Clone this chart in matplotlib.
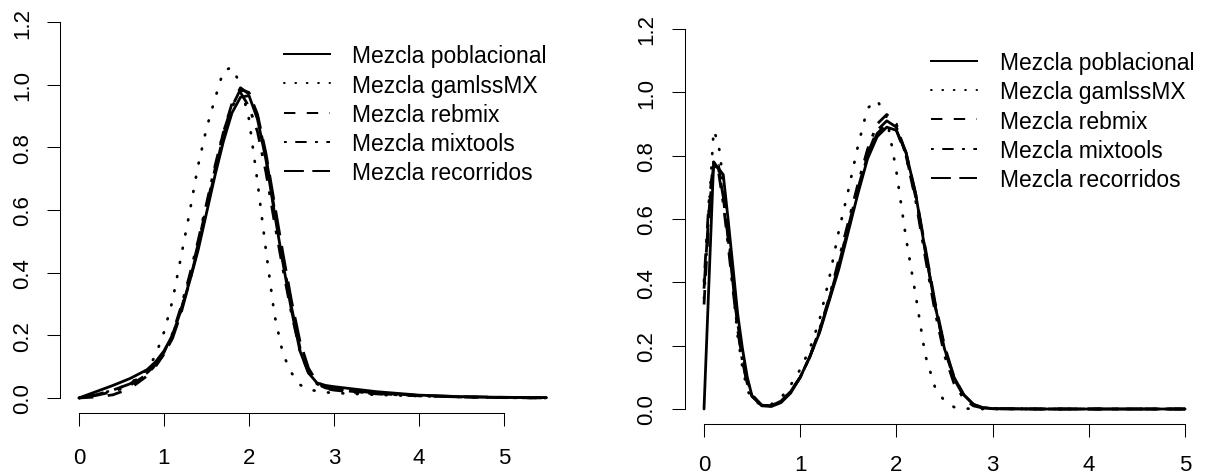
import matplotlib
matplotlib.use('Agg')
import matplotlib.pyplot as plt
from matplotlib.lines import Line2D
from matplotlib.ticker import FormatStrFormatter

plt.rcParams['font.family'] = ['Liberation Sans', 'DejaVu Sans']
plt.rcParams['lines.scale_dashes'] = False

# --- Data: estimated mixture densities ---
labels = ['Mezcla poblacional', 'Mezcla gamlssMX', 'Mezcla rebmix',
          'Mezcla mixtools', 'Mezcla recorridos']

# unimodal mixture (left)
x_left = [0, 0.2, 0.4, 0.6, 0.8, 0.9, 1.0, 1.1, 1.2, 1.3, 1.4, 1.5, 1.6, 1.7, 1.8, 1.9,
          2.0, 2.1, 2.2, 2.3, 2.4, 2.5, 2.6, 2.7, 2.8, 2.9, 3.0, 3.25, 3.5, 4.0, 4.5, 5.0, 5.5]
pobl_left = [0, 0.02, 0.04, 0.062, 0.09, 0.115, 0.15, 0.2, 0.28, 0.37, 0.47, 0.59, 0.71, 0.82,
             0.91, 0.96, 0.965, 0.89, 0.76, 0.59, 0.43, 0.28, 0.15, 0.08, 0.048, 0.04, 0.036,
             0.028, 0.02, 0.009, 0.004, 0.002, 0.001]
gamlss_left = [0.0, 0.01, 0.025, 0.045, 0.09, 0.135, 0.21, 0.31, 0.45, 0.59, 0.74, 0.86, 0.955,
               1.045, 1.055, 1.0, 0.89, 0.69, 0.47, 0.265, 0.14, 0.08, 0.042, 0.027, 0.022, 0.018,
               0.016, 0.013, 0.01, 0.006, 0.003, 0.001, 0.0]
rebmix_left = [0, 0.003, 0.01, 0.03, 0.07, 0.1, 0.14, 0.2, 0.28, 0.38, 0.49, 0.61, 0.73, 0.85,
               0.94, 0.99, 0.97, 0.9, 0.77, 0.6, 0.44, 0.29, 0.16, 0.085, 0.045, 0.032, 0.027,
               0.02, 0.014, 0.007, 0.003, 0.001, 0.0]
mixtools_left = [0, 0.008, 0.02, 0.04, 0.075, 0.105, 0.145, 0.205, 0.29, 0.39, 0.5, 0.62, 0.74,
                 0.85, 0.93, 0.975, 0.93, 0.85, 0.72, 0.56, 0.41, 0.27, 0.15, 0.08, 0.045, 0.03,
                 0.025, 0.018, 0.013, 0.007, 0.003, 0.001, 0.0]
recorr_left = [0, 0.01, 0.025, 0.045, 0.08, 0.105, 0.14, 0.19, 0.27, 0.37, 0.48, 0.6, 0.72, 0.84,
               0.93, 0.985, 0.975, 0.905, 0.78, 0.62, 0.46, 0.31, 0.18, 0.095, 0.05, 0.035, 0.03,
               0.022, 0.016, 0.008, 0.004, 0.002, 0.001]

# bimodal mixture (right)
x_right = [0, 0.05, 0.1, 0.15, 0.2, 0.25, 0.3, 0.35, 0.4, 0.45, 0.5, 0.6, 0.7, 0.8, 0.9, 1.0,
           1.1, 1.2, 1.3, 1.4, 1.5, 1.6, 1.7, 1.8, 1.9, 2.0, 2.1, 2.2, 2.3, 2.4, 2.5, 2.6, 2.7,
           2.8, 2.9, 3.0, 3.5, 4.0, 4.5, 5.0]
pobl_right = [0, 0.39, 0.78, 0.76, 0.74, 0.6, 0.45, 0.3, 0.19, 0.1, 0.04, 0.01, 0.008, 0.02,
              0.05, 0.1, 0.165, 0.24, 0.34, 0.44, 0.56, 0.68, 0.79, 0.86, 0.89, 0.88, 0.81, 0.68,
              0.5, 0.33, 0.19, 0.1, 0.045, 0.015, 0.004, 0.001, 0, 0, 0, 0]
gamlss_right = [0.35, 0.62, 0.88, 0.84, 0.72, 0.58, 0.38, 0.23, 0.13, 0.06, 0.03, 0.012, 0.015,
                0.035, 0.075, 0.125, 0.19, 0.28, 0.41, 0.56, 0.69, 0.83, 0.95, 0.975, 0.92, 0.75,
                0.54, 0.36, 0.17, 0.07, 0.025, 0.006, 0.002, 0, 0, 0, 0, 0, 0, 0]
rebmix_right = [0.33, 0.6, 0.77, 0.77, 0.68, 0.55, 0.4, 0.26, 0.15, 0.08, 0.04, 0.012, 0.01,
                0.025, 0.055, 0.1, 0.165, 0.245, 0.345, 0.455, 0.57, 0.69, 0.8, 0.87, 0.9, 0.88,
                0.8, 0.67, 0.5, 0.33, 0.19, 0.095, 0.04, 0.014, 0.004, 0.001, 0, 0, 0, 0]
mixtools_right = [0.4, 0.65, 0.78, 0.75, 0.65, 0.52, 0.38, 0.25, 0.15, 0.08, 0.04, 0.012, 0.01,
                  0.025, 0.055, 0.1, 0.165, 0.25, 0.35, 0.47, 0.59, 0.71, 0.82, 0.9, 0.93, 0.9,
                  0.8, 0.66, 0.48, 0.31, 0.17, 0.08, 0.033, 0.01, 0.003, 0.001, 0, 0, 0, 0]
recorr_right = [0.38, 0.62, 0.77, 0.76, 0.67, 0.54, 0.4, 0.27, 0.17, 0.09, 0.045, 0.012, 0.01,
                0.025, 0.055, 0.1, 0.165, 0.245, 0.345, 0.455, 0.575, 0.695, 0.805, 0.88, 0.91,
                0.89, 0.81, 0.68, 0.51, 0.34, 0.2, 0.1, 0.045, 0.015, 0.005, 0.001, 0, 0, 0, 0]

x_ticks = [0, 1, 2, 3, 4, 5]
y_ticks = [0.0, 0.2, 0.4, 0.6, 0.8, 1.0, 1.2]

# R-like line types: solid, dotted, dashed, dotdash, longdash (lengths in points)
curve_styles = ['-', (0, (0.6, 9.8)), (0, (10.4, 10.4)), (0, (2.6, 7.8, 10.4, 7.8)), (0, (18.2, 7.8))]
key_styles = ['-', (0, (0.5, 7.7)), (0, (8.2, 8.2)), (0, (2.0, 6.1, 8.2, 6.1)), (0, (14.3, 6.1))]
caps = ['round', 'round', 'butt', 'butt', 'butt']


def draw_panel(ax, x, series, xlim, legend_anchor, xpad):
    for y, ls, cap in zip(series, curve_styles, caps):
        ax.plot(x, y, color='black', lw=2.0, linestyle=ls,
                dash_capstyle=cap, solid_capstyle='round', solid_joinstyle='round')

    ax.set_xlim(*xlim)
    ax.set_ylim(-0.048, 1.248)
    ax.set_xticks(x_ticks)
    ax.set_yticks(y_ticks)
    ax.yaxis.set_major_formatter(FormatStrFormatter('%.1f'))

    for side in ['top', 'right']:
        ax.spines[side].set_visible(False)
    ax.spines['left'].set_bounds(0, 1.2)
    ax.spines['bottom'].set_bounds(0, 5)
    ax.spines['left'].set_linewidth(0.75)
    ax.spines['bottom'].set_linewidth(0.75)

    ax.tick_params(direction='out', length=9.7, width=0.75, labelsize=16)
    ax.tick_params(axis='x', pad=xpad)
    ax.tick_params(axis='y', pad=10)
    for lab in ax.get_yticklabels():
        lab.set_rotation(90)
        lab.set_va('center')

    handles = [Line2D([], [], color='black', lw=1.45, linestyle=ls, dash_capstyle=cap)
               for ls, cap in zip(key_styles, caps)]
    ax.legend(handles, labels, loc='upper left', bbox_to_anchor=legend_anchor,
              frameon=False, fontsize=16.5, handlelength=2.0, handletextpad=0.99,
              labelspacing=0.27, borderpad=0, borderaxespad=0)


fig = plt.figure(figsize=(12.15, 4.77), dpi=100)
ax1 = fig.add_axes([0.0496, 0.1321, 0.4156, 0.8512])
ax2 = fig.add_axes([0.5636, 0.1086, 0.4275, 0.8604])

draw_panel(ax1, x_left, [pobl_left, gamlss_left, rebmix_left, mixtools_left, recorr_left],
           (-0.22, 5.72), (0.443, 0.908), 14.5)
draw_panel(ax2, x_right, [pobl_right, gamlss_right, rebmix_right, mixtools_right, recorr_right],
           (-0.2, 5.2), (0.475, 0.909), 12)

fig.savefig('out.png', dpi=100, facecolor='white')
